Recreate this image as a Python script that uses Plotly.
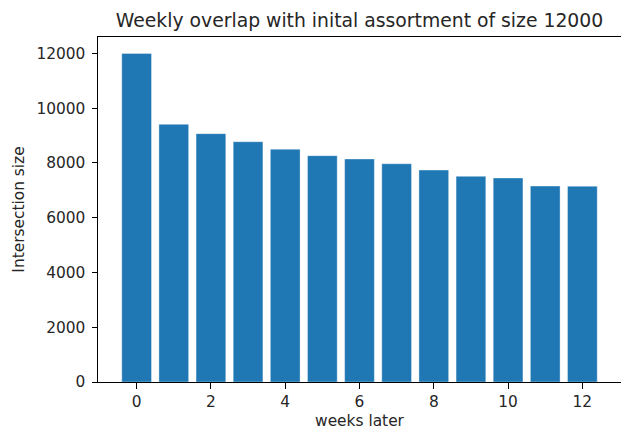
import plotly.graph_objects as go

# Weeks after the initial assortment and the size of the overlap each week
weeks = list(range(13))
intersection = [12000, 9410, 9070, 8775, 8500, 8265, 8145, 7970, 7740, 7510, 7450, 7155, 7150]

x_ticks = [0, 2, 4, 6, 8, 10, 12]
y_ticks = [0, 2000, 4000, 6000, 8000, 10000, 12000]

font_family = "DejaVu Sans"
text_color = "#262626"
tick_size = 15.4

fig = go.Figure(
    go.Bar(
        x=weeks,
        y=intersection,
        width=0.8,
        marker=dict(color="#1f77b4", line=dict(width=0.6, color="rgba(255,255,255,0.6)")),
    )
)

fig.update_layout(
    width=621,
    height=430,
    margin=dict(l=98, r=0, t=37, b=48),
    paper_bgcolor="white",
    plot_bgcolor="white",
    showlegend=False,
    font=dict(family=font_family, size=tick_size, color=text_color),
    title=dict(
        text="Weekly overlap with inital assortment of size 12000",
        font=dict(family=font_family, size=18.8, color=text_color),
        x=0.5,
        xref="paper",
        xanchor="center",
        y=1,
        yref="paper",
        yanchor="bottom",
        pad=dict(b=10),
    ),
    bargap=0.2,
)

fig.update_xaxes(
    range=[-1.04, 13.04],
    tickvals=x_ticks,
    ticktext=[str(v) for v in x_ticks],
    ticks="outside",
    ticklen=5.5,
    tickwidth=1,
    tickcolor="#000",
    showline=True,
    linecolor="#000",
    linewidth=1,
    mirror=True,
    showgrid=False,
    zeroline=False,
    title=dict(text="weeks later", standoff=5, font=dict(size=tick_size)),
    tickfont=dict(size=tick_size),
)

fig.update_yaxes(
    range=[0, 12600],
    tickvals=y_ticks,
    ticktext=[str(v) for v in y_ticks],
    ticks="outside",
    ticklen=5.5,
    tickwidth=1,
    tickcolor="#000",
    showline=True,
    linecolor="#000",
    linewidth=1,
    mirror=True,
    showgrid=False,
    zeroline=False,
    ticklabelstandoff=3,
    title=dict(text="Intersection size", standoff=8, font=dict(size=tick_size)),
    tickfont=dict(size=tick_size),
)

fig.write_html("out.html")
